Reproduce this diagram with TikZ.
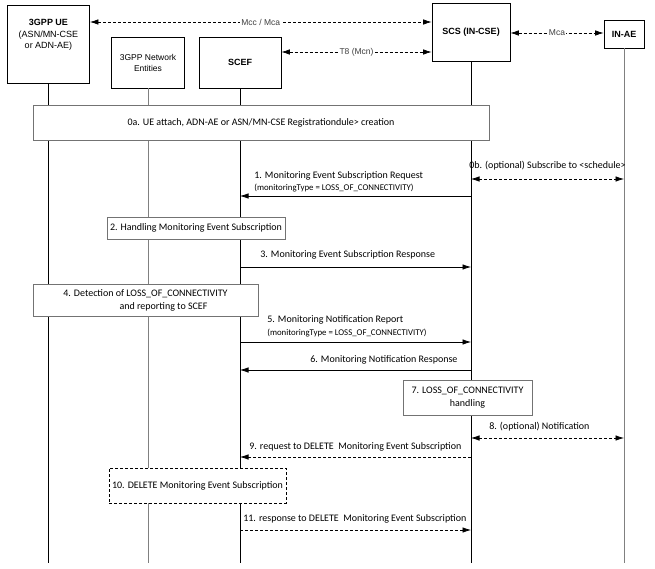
\documentclass[tikz,border=0pt]{standalone}
\usepackage{fontspec}
\setmainfont{Carlito}
\newfontfamily\arialfont{Liberation Sans}
\usepackage{tikz}
\usetikzlibrary{arrows.meta,positioning,calc}
\tikzstyle{entity} = [rectangle, draw=black, fill=white, align=center, inner sep=1pt, font=\arialfont\fontsize{9}{11}\selectfont]

\begin{document}
\begin{tikzpicture}[x=1pt, y=-1pt, line width=0.7pt, >={Latex[length=8.5pt,width=5.5pt]}]
    \tikzstyle{procbox} = [rectangle, draw=black!55, fill=white, align=center, inner sep=1pt, font=\fontsize{10}{13}\selectfont]
    \tikzstyle{msg} = [->]
    \tikzstyle{opt} = [dash pattern=on 3pt off 2pt]
    \tikzstyle{lbl} = [anchor=west, inner sep=0pt, font=\fontsize{10}{12}\selectfont]
    \tikzstyle{sublbl} = [anchor=west, inner sep=0pt, font=\fontsize{8.8}{10}\selectfont]
    \tikzstyle{ref} = [fill=white, inner sep=1pt, text=black!75, font=\arialfont\fontsize{8.5}{10}\selectfont]
    \useasboundingbox (0,0) rectangle (655,569);
    % entities
    \node[entity, minimum width=82pt, minimum height=78pt] (ue) at (48.5,44) {};
    \node[inner sep=0pt, align=center, font=\arialfont\fontsize{9}{11.5}\selectfont] (ue-txt) at (48.5,35) {\textbf{3GPP UE}\\(ASN/MN-CSE\\or ADN-AE)};
    \node[entity, minimum width=73pt, minimum height=51pt, font=\arialfont\fontsize{8.5}{11}\selectfont] (ne) at (148,62.5) {3GPP Network\\Entities};
    \node[entity, minimum width=82pt, minimum height=51pt] (scef) at (240,62.5) {\textbf{SCEF}};
    \node[entity, minimum width=78pt, minimum height=58pt] (scs) at (471,32) {\textbf{SCS (IN-CSE)}};
    \node[entity, minimum width=40pt, minimum height=28pt] (inae) at (624,34) {\textbf{IN-AE}};
    % reference points
    \coordinate (end) at (0,563);
    \coordinate (hmcc) at (0,22);
    \coordinate (ht8) at (0,52);
    \coordinate (hmca) at (0,33);
    \draw[opt, <->] (ue.east |- hmcc) -- (scs.west |- hmcc) node[ref, midway] (mcc) {Mcc / Mca};
    \draw[opt, <->] (scef.east |- ht8) -- (scs.west |- ht8) node[ref, midway] (t8) {T8 (Mcn)};
    \draw[opt, <->] (scs.east |- hmca) -- (inae.west |- hmca) node[ref, midway] (mca) {Mca};
    % lifelines
    \foreach \n in {ue,scef,scs}
        \draw (\n.south) -- (\n |- end);
    \foreach \n in {ne,inae}
        \draw[black!50] (\n.south) -- (\n |- end);
    % step 0
    \node[procbox, minimum width=456pt, minimum height=35pt] (s0a) at (261,123) {0a. UE attach, ADN-AE or ASN/MN-CSE Registrationdule> creation};
    \node[lbl] (l0b) at (469,166) {0b. (optional) Subscribe to <schedule>};
    \coordinate (y0b) at (0,179);
    \draw[opt, <->] (scs |- y0b) -- (inae |- y0b);
    % step 1
    \node[lbl] (l1) at (254,176) {1. Monitoring Event Subscription Request};
    \node[sublbl] (l1b) at (254,188) {(monitoringType = LOSS\_OF\_CONNECTIVITY)};
    \coordinate (y1) at (0,196);
    \draw[msg] (scs |- y1) -- (scef |- y1);
    % step 2
    \node[procbox, minimum width=178pt, minimum height=22pt] (s2) at (196,228) {2. Handling Monitoring Event Subscription};
    % step 3
    \node[lbl] (l3) at (260,255) {3. Monitoring Event Subscription Response};
    \coordinate (y3) at (0,267);
    \draw[msg] (scef |- y3) -- (scs |- y3);
    % step 4
    \node[procbox, minimum width=225pt, minimum height=32pt] (s4) at (145.5,300) {4. Detection of LOSS\_OF\_CONNECTIVITY\\\hspace*{36pt}and reporting to SCEF};
    % step 5
    \node[lbl] (l5) at (267,320) {5. Monitoring Notification Report};
    \node[sublbl] (l5b) at (267,333) {(monitoringType = LOSS\_OF\_CONNECTIVITY)};
    \coordinate (y5) at (0,342);
    \draw[msg] (scef |- y5) -- (scs |- y5);
    % step 6
    \node[lbl] (l6) at (310,360) {6. Monitoring Notification Response};
    \coordinate (y6) at (0,370);
    \draw[msg] (scs |- y6) -- (scef |- y6);
    % step 7
    \node[procbox, minimum width=129pt, minimum height=35pt] (s7) at (467.5,397.5) {7. LOSS\_OF\_CONNECTIVITY\\handling};
    % step 8
    \node[lbl] (l8) at (489,427) {8. (optional) Notification};
    \coordinate (y8) at (0,438);
    \draw[opt, <->] (scs |- y8) -- (inae |- y8);
    % step 9
    \node[lbl] (l9) at (249,447) {9. request to DELETE\ \ Monitoring Event Subscription};
    \coordinate (y9) at (0,457);
    \draw[opt, msg] (scs |- y9) -- (scef |- y9);
    % step 10
    \node[procbox, draw=black, opt, minimum width=177pt, minimum height=35pt] (s10) at (197.5,485.5) {10. DELETE Monitoring Event Subscription};
    % step 11
    \node[lbl] (l11) at (243,519) {11. response to DELETE\ \ Monitoring Event Subscription};
    \coordinate (y11) at (0,530);
    \draw[opt, msg] (scef |- y11) -- (scs |- y11);
\end{tikzpicture}
\end{document}
